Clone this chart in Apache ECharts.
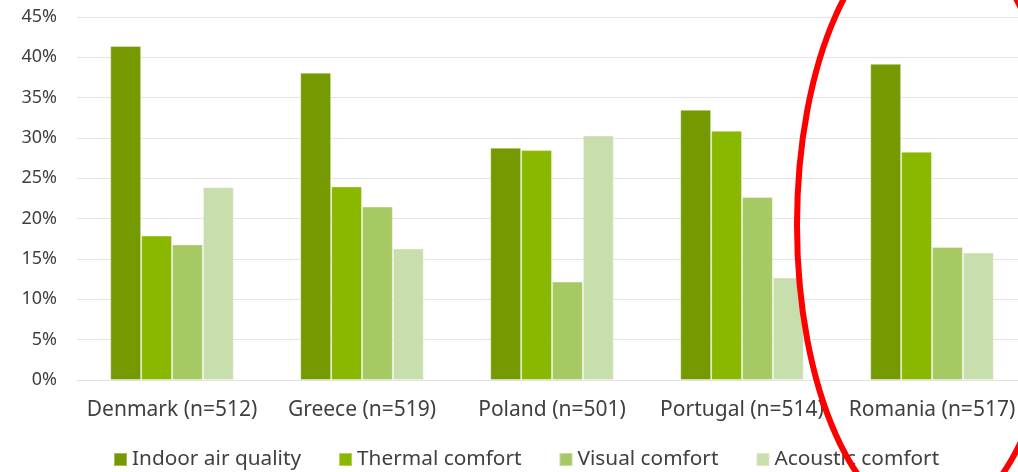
<!DOCTYPE html>
<html>
<head>
  <meta charset="utf-8">
  <style>
    html, body { margin: 0; padding: 0; background: #fff; }
  </style>
</head>
<body>
  <div id="main" style="width: 1018px; height: 472px"></div>
  <script src="https://cdn.jsdelivr.net/npm/echarts@6/dist/echarts.min.js"></script>
  <script>
    var countries = ['Denmark (n=512)', 'Greece (n=519)', 'Poland (n=501)', 'Portugal (n=514)', 'Romania (n=517)'];
    var indoorAir = [41.4, 38.1, 28.8, 33.5, 39.2];
    var thermal = [17.9, 24.0, 28.5, 30.9, 28.3];
    var visual = [16.8, 21.5, 12.2, 22.7, 16.5];
    var acoustic = [23.9, 16.3, 30.3, 12.7, 15.8];

    var font = '"Noto Sans", sans-serif';
    var chart = echarts.init(document.getElementById('main'));

    function bar(name, data, color) {
      return {
        name: name,
        type: 'bar',
        data: data,
        barGap: 0,
        barCategoryGap: '35%',
        itemStyle: { color: color, borderColor: 'rgba(255,255,255,0.35)', borderWidth: 1 }
      };
    }

    chart.setOption({
      animation: false,
      textStyle: { fontFamily: font },
      grid: { left: 77, width: 950, top: 17, bottom: 92, outerBoundsMode: 'none' },
      legend: {
        left: 113,
        top: 449,
        padding: 0,
        itemWidth: 13,
        itemHeight: 13,
        itemGap: 37,
        icon: 'rect',
        textStyle: { fontSize: 20.8, color: '#404040', fontFamily: font },
        data: ['Indoor air quality', 'Thermal comfort', 'Visual comfort', 'Acoustic comfort']
      },
      xAxis: {
        type: 'category',
        data: countries,
        axisLine: { lineStyle: { color: '#e0e0e0' } },
        axisTick: { show: false },
        axisLabel: { interval: 0, fontSize: 21, color: '#404040', margin: 20, fontFamily: font }
      },
      yAxis: {
        type: 'value',
        min: 0,
        max: 45,
        interval: 5,
        axisLabel: { formatter: '{value}%', fontSize: 18, color: '#404040', margin: 20, fontFamily: font },
        axisLine: { show: false },
        axisTick: { show: false },
        splitLine: { lineStyle: { color: '#e4e4e4' } }
      },
      series: [
        bar('Indoor air quality', indoorAir, '#759900'),
        bar('Thermal comfort', thermal, '#8ab800'),
        bar('Visual comfort', visual, '#a6c964'),
        bar('Acoustic comfort', acoustic, '#c8dead')
      ],
      graphic: [{
        type: 'ellipse',
        z: 100,
        shape: { cx: 930, cy: 225, rx: 133, ry: 297 },
        style: { fill: 'none', stroke: '#ff0000', lineWidth: 6 }
      }]
    });
  </script>
</body>
</html>
